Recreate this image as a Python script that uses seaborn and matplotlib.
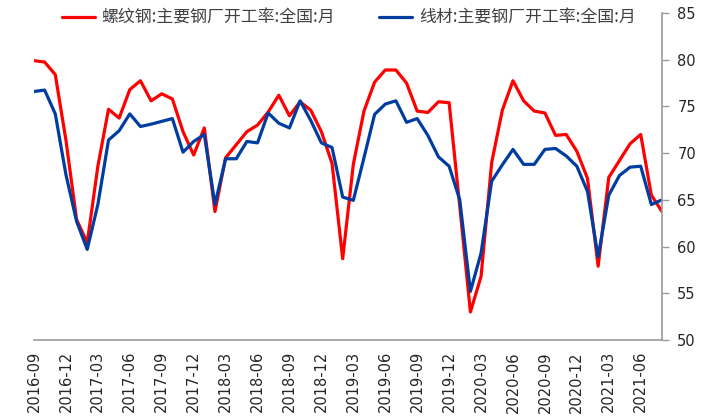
import pandas as pd
import numpy as np
import matplotlib
matplotlib.use("Agg")
import matplotlib.pyplot as plt
import seaborn as sns

# monthly operating rate, 2016-09 .. 2021-08
months = pd.period_range("2016-09", "2021-08", freq="M").strftime("%Y-%m").tolist()

rebar = [79.9, 79.75, 78.4, 71.4, 62.9, 60.4, 68.6, 74.7, 73.75, 76.8,
         77.75, 75.6, 76.35, 75.8, 72.3, 69.8, 72.7, 63.75, 69.5, 70.9,
         72.3, 73.0, 74.4, 76.2, 74.0, 75.5, 74.6, 72.3, 68.9, 58.7,
         68.8, 74.5, 77.6, 78.9, 78.9, 77.5, 74.5, 74.35, 75.5, 75.4,
         64.3, 53.0, 56.8, 69.0, 74.6, 77.75, 75.6, 74.5, 74.3, 71.9,
         72.0, 70.2, 67.3, 57.9, 67.4, 69.2, 71.0, 72.0, 65.5, 63.75]

wire = [76.6, 76.75, 74.2, 67.7, 62.7, 59.7, 64.5, 71.4, 72.4, 74.2,
        72.85, 73.1, 73.4, 73.7, 70.1, 71.25, 72.0, 64.5, 69.4, 69.4,
        71.25, 71.1, 74.3, 73.2, 72.7, 75.6, 73.5, 71.1, 70.6, 65.3,
        64.95, 69.5, 74.15, 75.25, 75.6, 73.3, 73.7, 71.9, 69.6, 68.6,
        65.0, 55.2, 59.3, 67.0, 68.75, 70.4, 68.8, 68.8, 70.4, 70.5,
        69.7, 68.6, 65.9, 58.9, 65.5, 67.6, 68.5, 68.6, 64.5, 65.0]

series_names = ["螺纹钢:主要钢厂开工率:全国:月", "线材:主要钢厂开工率:全国:月"]
colors = ["#FF0000", "#003DA0"]

df = pd.DataFrame({"idx": range(len(months)), "month": months,
                   series_names[0]: rebar, series_names[1]: wire})
long = df.melt(id_vars=["idx", "month"], var_name="series", value_name="rate")

sns.set_style("white")
plt.rcParams["font.family"] = ["Noto Sans CJK SC", "DejaVu Sans"]

fig = plt.figure(figsize=(7.12, 4.2), dpi=100)
ax = fig.add_axes([34 / 712, 80 / 420, 628 / 712, 327 / 420])

sns.lineplot(data=long, x="idx", y="rate", hue="series", hue_order=series_names,
             palette=colors, linewidth=2.3, ax=ax, legend=False)

ax.set_xlim(0, len(months) - 1)
ax.set_ylim(50, 85)
ax.set_yticks(np.arange(50, 86, 5))
ax.yaxis.tick_right()
ax.set_xticks(range(0, len(months), 3))
ax.set_xticklabels(months[::3], rotation=90, fontsize=10.5, family="DejaVu Sans")
for t in ax.get_yticklabels():
    t.set_fontsize(10.5)
    t.set_family("DejaVu Sans")
ax.set_xlabel("")
ax.set_ylabel("")

for s in ["top", "left"]:
    ax.spines[s].set_visible(False)
for s in ["bottom", "right"]:
    ax.spines[s].set_color("#9a9a9a")
    ax.spines[s].set_linewidth(1.2)
ax.tick_params(axis="x", direction="out", length=5, color="#9a9a9a", width=1, pad=3)
ax.tick_params(axis="y", direction="out", length=5, color="#9a9a9a", width=1, pad=6,
               left=False, right=True, labelleft=False, labelright=True)

handles = [plt.Line2D([], [], color=c, linewidth=2.3) for c in colors]
fig.legend(handles, series_names, loc="center", bbox_to_anchor=(0.49, 0.957), ncol=2,
           frameon=False, fontsize=12.2, handlelength=1.95, handletextpad=0.4,
           columnspacing=2.6, labelcolor="#404040")

fig.savefig("out.png", dpi=100)
